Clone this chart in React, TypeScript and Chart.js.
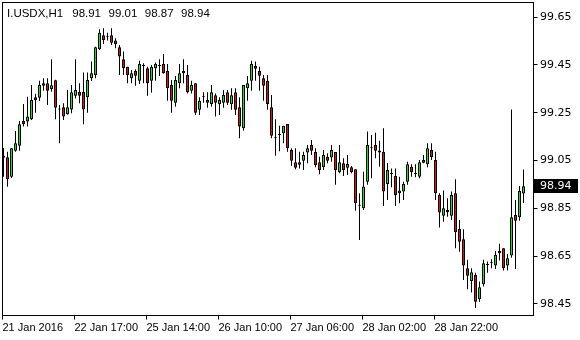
import React, { useEffect, useRef } from "react";
import { Chart, registerables } from "chart.js";

Chart.register(...registerables);

const symbolTitle = "I.USDX,H1";

const openP = [
  99.060, 99.062, 98.980, 99.089, 99.110, 99.213, 99.211, 99.221, 99.313, 99.311,
  99.371, 99.371, 99.347, 99.384, 99.262, 99.271, 99.242, 99.262, 99.319, 99.335,
  99.335, 99.313, 99.392, 99.406, 99.514, 99.572, 99.566, 99.572, 99.550, 99.522,
  99.472, 99.441, 99.392, 99.423, 99.382, 99.444, 99.434, 99.382, 99.434, 99.444,
  99.452, 99.423, 99.364, 99.290, 99.371, 99.423, 99.406, 99.340, 99.371, 99.260,
  99.313, 99.301, 99.285, 99.321, 99.283, 99.290, 99.334, 99.283, 99.334, 99.271,
  99.183, 99.350, 99.382, 99.444, 99.423, 99.392, 99.382, 99.271, 99.141, 99.155,
  99.162, 99.201, 99.092, 99.041, 99.030, 99.047, 99.081, 99.113, 99.084, 99.041,
  99.020, 99.064, 99.061, 99.084, 98.999, 99.036, 99.018, 99.020, 99.011, 98.859,
  98.848, 98.959, 99.099, 99.113, 99.081, 99.085, 98.950, 98.992, 98.983, 98.922,
  98.918, 98.959, 99.022, 98.992, 98.980, 99.050, 99.032, 99.092, 99.050, 98.904,
  98.817, 98.841, 98.817, 98.911, 98.761, 98.718, 98.597, 98.544, 98.569, 98.467,
  98.530, 98.611, 98.618, 98.608, 98.660, 98.681, 98.608, 98.650, 98.820, 98.810,
  98.910,
];
const highP = [
  99.100, 99.085, 99.100, 99.172, 99.213, 99.285, 99.315, 99.364, 99.327, 99.382,
  99.392, 99.392, 99.472, 99.386, 99.280, 99.288, 99.343, 99.364, 99.472, 99.371,
  99.416, 99.416, 99.462, 99.524, 99.597, 99.602, 99.583, 99.602, 99.560, 99.532,
  99.504, 99.441, 99.427, 99.430, 99.466, 99.455, 99.441, 99.448, 99.458, 99.472,
  99.494, 99.452, 99.385, 99.402, 99.452, 99.472, 99.448, 99.382, 99.371, 99.313,
  99.334, 99.334, 99.364, 99.329, 99.313, 99.343, 99.343, 99.350, 99.350, 99.313,
  99.364, 99.402, 99.466, 99.462, 99.441, 99.406, 99.406, 99.322, 99.221, 99.193,
  99.193, 99.201, 99.099, 99.099, 99.085, 99.085, 99.113, 99.134, 99.099, 99.064,
  99.092, 99.078, 99.113, 99.084, 99.113, 99.057, 99.071, 99.025, 99.011, 98.911,
  99.001, 99.169, 99.155, 99.164, 99.131, 99.183, 99.038, 99.015, 99.015, 98.980,
  98.959, 99.043, 99.032, 99.032, 99.050, 99.071, 99.120, 99.120, 99.085, 98.911,
  98.922, 98.890, 98.918, 98.969, 98.799, 98.760, 98.632, 98.597, 98.578, 98.541,
  98.632, 98.625, 98.635, 98.669, 98.699, 98.681, 98.657, 99.262, 98.883, 98.941,
  99.010,
];
const lowP = [
  98.980, 98.938, 98.975, 99.085, 99.089, 99.190, 99.190, 99.218, 99.248, 99.297,
  99.340, 99.280, 99.336, 99.221, 99.120, 99.218, 99.240, 99.246, 99.308, 99.288,
  99.200, 99.248, 99.381, 99.392, 99.511, 99.536, 99.550, 99.532, 99.518, 99.406,
  99.406, 99.371, 99.371, 99.361, 99.368, 99.371, 99.319, 99.332, 99.382, 99.402,
  99.411, 99.298, 99.248, 99.273, 99.350, 99.371, 99.329, 99.329, 99.239, 99.239,
  99.290, 99.269, 99.273, 99.232, 99.239, 99.269, 99.280, 99.260, 99.239, 99.141,
  99.173, 99.298, 99.340, 99.382, 99.340, 99.298, 99.260, 99.141, 99.068, 99.087,
  99.120, 99.085, 99.025, 99.011, 99.015, 99.008, 99.036, 99.071, 99.020, 98.990,
  99.008, 99.036, 99.043, 98.946, 98.995, 98.983, 98.987, 98.995, 98.838, 98.715,
  98.841, 98.946, 98.974, 99.057, 99.022, 98.858, 98.883, 98.936, 98.858, 98.869,
  98.883, 98.946, 98.980, 98.978, 98.974, 99.036, 99.020, 99.050, 98.883, 98.767,
  98.792, 98.813, 98.799, 98.681, 98.666, 98.548, 98.509, 98.495, 98.430, 98.457,
  98.520, 98.578, 98.597, 98.594, 98.629, 98.587, 98.587, 98.641, 98.594, 98.796,
  98.870,
];
const closeP = [
  99.068, 98.969, 99.099, 99.120, 99.200, 99.200, 99.232, 99.301, 99.300, 99.364,
  99.361, 99.340, 99.363, 99.269, 99.262, 99.232, 99.271, 99.334, 99.343, 99.319,
  99.262, 99.385, 99.413, 99.522, 99.583, 99.553, 99.566, 99.541, 99.536, 99.483,
  99.434, 99.406, 99.413, 99.403, 99.452, 99.444, 99.371, 99.441, 99.452, 99.444,
  99.413, 99.350, 99.298, 99.385, 99.413, 99.413, 99.334, 99.364, 99.248, 99.298,
  99.313, 99.290, 99.334, 99.290, 99.301, 99.322, 99.290, 99.321, 99.260, 99.190,
  99.364, 99.371, 99.452, 99.432, 99.403, 99.361, 99.285, 99.152, 99.141, 99.155,
  99.193, 99.099, 99.047, 99.018, 99.041, 99.071, 99.099, 99.089, 99.029, 99.008,
  99.071, 99.047, 99.092, 99.008, 99.041, 99.008, 99.033, 98.999, 98.869, 98.859,
  98.939, 99.113, 99.099, 99.089, 99.090, 98.918, 99.008, 98.992, 98.904, 98.911,
  98.950, 99.032, 98.999, 98.992, 99.041, 99.039, 99.099, 99.062, 98.911, 98.830,
  98.848, 98.831, 98.904, 98.748, 98.708, 98.608, 98.566, 98.580, 98.457, 98.517,
  98.618, 98.611, 98.618, 98.653, 98.669, 98.597, 98.639, 98.810, 98.796, 98.920,
  98.940,
];

const xTickIndex = [0, 18, 36, 54, 72, 90, 108];
const xTickLabels = [
  "21 Jan 2016",
  "22 Jan 17:00",
  "25 Jan 14:00",
  "26 Jan 10:00",
  "27 Jan 06:00",
  "28 Jan 02:00",
  "28 Jan 22:00",
];
const yTickValues = [99.65, 99.45, 99.25, 99.05, 98.85, 98.65, 98.45];

const BULL = "#22dd22";
const BEAR = "#d01818";

export default function App() {
  const ref = useRef<HTMLCanvasElement | null>(null);

  useEffect(() => {
    const canvas = ref.current;
    if (!canvas) return;
    const n = openP.length;
    const idx = openP.map((_, i) => i);

    const wickData = idx.map((i) => ({ x: i, y: [lowP[i], highP[i]] }));
    const bodyData = idx.map((i) => ({ x: i, y: [openP[i], closeP[i]] }));
    const bodyColors = idx.map((i) =>
      closeP[i] > openP[i] ? BULL : closeP[i] < openP[i] ? BEAR : "#000000"
    );

    const overlay = {
      id: "mtOverlay",
      afterDraw(chart: any) {
        const ctx = chart.ctx as CanvasRenderingContext2D;
        const xs = chart.scales.x;
        const ys = chart.scales.y;
        const area = chart.chartArea;
        ctx.save();
        ctx.strokeStyle = "#000";
        ctx.lineWidth = 1;
        const L = Math.floor(area.left) - 0.5;
        const R = Math.round(area.right) - 0.5;
        const T = Math.floor(area.top) - 0.5;
        const B = Math.round(area.bottom) - 0.5;
        ctx.strokeRect(L, T, R - L, B - T);

        // x ticks + labels
        ctx.fillStyle = "#000";
        ctx.font = "11px 'Liberation Sans', Arial, sans-serif";
        ctx.textAlign = "left";
        ctx.textBaseline = "middle";
        xTickIndex.forEach((ti, k) => {
          const px = xs.getPixelForValue(ti);
          const lx = Math.floor(px) - 0.5;
          ctx.beginPath();
          ctx.moveTo(lx, B);
          ctx.lineTo(lx, B + 4);
          ctx.stroke();
          ctx.fillText(xTickLabels[k], px - 1, B + 12);
        });

        // y ticks + labels
        ctx.font = "11px 'DejaVu Sans', Verdana, sans-serif";
        yTickValues.forEach((v) => {
          const py = ys.getPixelForValue(v);
          const ly = Math.round(py) + 0.5;
          ctx.beginPath();
          ctx.moveTo(R, ly);
          ctx.lineTo(R + 4, ly);
          ctx.stroke();
          ctx.fillText(v.toFixed(2), R + 6.5, py + 0.5);
        });

        // last price tag
        const last = closeP[n - 1];
        const pp = Math.round(ys.getPixelForValue(last));
        ctx.fillStyle = "#000";
        ctx.fillRect(R, pp - 7, 580 - R - 2, 14);
        ctx.fillStyle = "#fff";
        ctx.fillText(last.toFixed(2), R + 6.5, pp + 0.5);

        // title
        ctx.fillStyle = "#000";
        ctx.font = "11.5px 'Liberation Sans', Arial, sans-serif";
        let tx = 7;
        ctx.fillText(symbolTitle, tx, 14);
        tx += ctx.measureText(symbolTitle).width + 9;
        [openP[n - 1], highP[n - 1], lowP[n - 1], closeP[n - 1]].forEach((v) => {
          const s = v.toFixed(2);
          ctx.fillText(s, tx, 14);
          tx += ctx.measureText(s).width + 7.5;
        });
        ctx.restore();
      },
    };

    const chart = new Chart(canvas, {
      type: "bar",
      data: {
        datasets: [
          {
            label: "wick",
            data: wickData as any,
            backgroundColor: "#000000",
            borderWidth: 0,
            barThickness: 1,
            inflateAmount: 0,
            grouped: false,
            order: 3,
          } as any,
          {
            label: "body",
            data: bodyData as any,
            backgroundColor: bodyColors,
            borderColor: "#000000",
            borderWidth: 1,
            borderSkipped: false,
            barThickness: 3,
            minBarLength: 1,
            inflateAmount: 0,
            grouped: false,
            order: 1,
          } as any,
        ],
      },
      options: {
        animation: false,
        responsive: false,
        devicePixelRatio: 1,
        events: [],
        layout: { padding: { left: 3, top: 3, right: 46, bottom: 24 } },
        plugins: {
          legend: { display: false },
          tooltip: { enabled: false },
          title: { display: false },
        },
        scales: {
          x: {
            type: "linear",
            display: false,
            offset: false,
            bounds: "data",
            min: -0.125,
            max: 132.625,
          },
          y: {
            type: "linear",
            display: false,
            bounds: "data",
            min: 98.397,
            max: 99.7074,
          },
        },
      } as any,
      plugins: [overlay],
    });

    return () => chart.destroy();
  }, []);

  return (
    <div
      style={{
        position: "fixed",
        left: 0,
        top: 0,
        width: 580,
        height: 340,
        background: "#fff",
      }}
    >
      <canvas ref={ref} width={580} height={340} style={{ width: 580, height: 340 }} />
    </div>
  );
}
